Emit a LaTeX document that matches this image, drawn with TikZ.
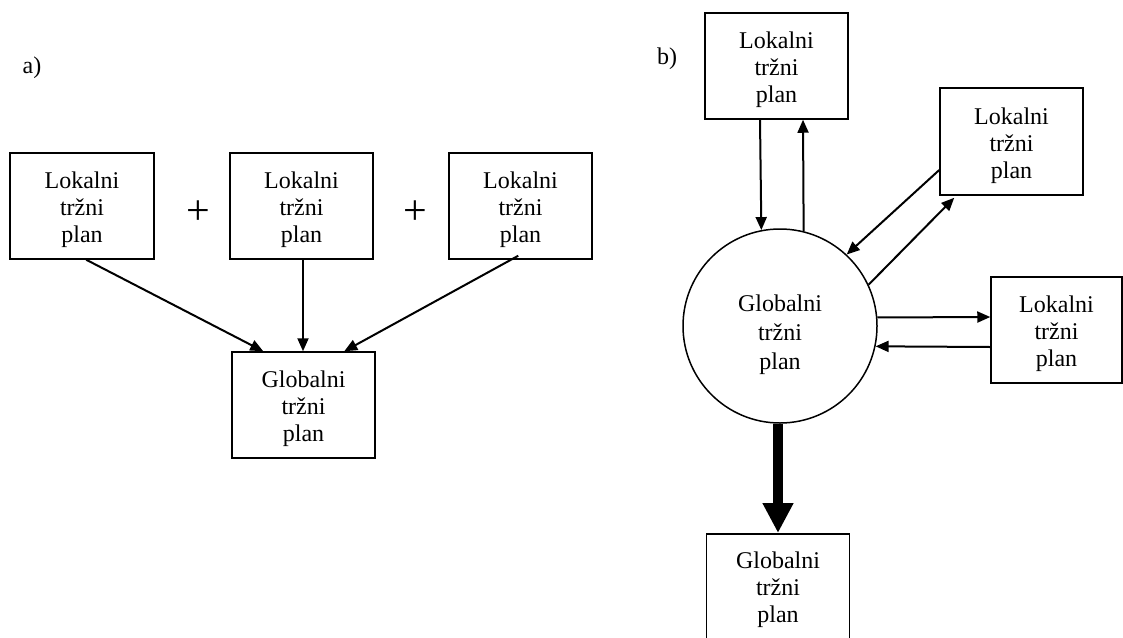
\documentclass[tikz,border=0pt]{standalone}
\usepackage{fontspec}
\setmainfont{Liberation Serif}
\usetikzlibrary{arrows.meta,calc}

% three-line plan labels; the invisible rule sets the first line's height
\newcommand\localplan[1][25pt]{\rule{0pt}{#1}Lokalni\\tržni\\plan}
\newcommand\globalplan[1][25pt]{\rule{0pt}{#1}Globalni\\tržni\\plan}

\tikzset{
  plan/.style={draw, line width=1.5pt, inner sep=0pt, align=center,
    minimum width=143pt, minimum height=106pt,
    font=\fontsize{24pt}{27pt}\selectfont},
  hub/.style={draw, circle, line width=1.5pt, inner sep=0pt, align=center,
    minimum size=194pt, font=\fontsize{24pt}{29pt}\selectfont},
  flow/.style={line width=2pt, -{Triangle[length=13pt,width=11pt]}},
  bigflow/.style={line width=10pt, -{Triangle[length=30pt,width=29pt]}},
  tag/.style={font=\fontsize{24pt}{27pt}\selectfont, inner sep=0pt},
  plus/.style={font=\fontsize{42pt}{42pt}\selectfont, inner sep=0pt}
}

\begin{document}
\begin{tikzpicture}[x=1pt,y=-1pt]
\useasboundingbox (0,0) rectangle (1123,637);
\clip (0,0) rectangle (1123,637);

% (a) local plans summed into the global plan
\node[tag, anchor=base] (la) at (32,73) {a)};
\node[plan, minimum width=144pt] (a1) at (82,206) {\localplan};
\node[plan] (a2) at (301.5,206) {\localplan};
\node[plan] (a3) at (520.5,206) {\localplan};
\node[plus] (p1) at (198,213) {+};
\node[plus] (p2) at (415,213) {+};
\node[plan] (ag) at (303.5,405) {\globalplan};

\draw[flow] ([xshift=77pt]a1.south west) -- ([xshift=32pt]ag.north west);
\draw[flow] ([xshift=1.5pt]a2.south) -- ([xshift=-0.5pt]ag.north);
\draw[flow] ([xshift=70pt,yshift=4pt]a3.south west) -- ([xshift=113pt]ag.north west);

% (b) global plan exchanging with local plans
\node[tag, anchor=base] (lb) at (667,64) {b)};
\node[hub] (c) at (780,326) {\globalplan[35pt]};
\node[plan] (t) at (776.5,66) {\localplan};
\node[plan, minimum height=107pt] (r1) at (1011.5,141.5) {\localplan};
\node[plan, minimum width=131pt] (r2) at (1056.5,330) {\localplan};
\node[plan, anchor=north] (g) at (778,533) {\globalplan[22pt]};

\draw[flow] ([xshift=-16.5pt]t.south) -- (c.101.9);
\draw[flow] (c.76.3) -- ([xshift=26.5pt]t.south);
\draw[flow] ([yshift=-28.5pt]r1.west) -- (c.47);
\draw[flow] (c.25.5) -- ([xshift=15pt,yshift=-2pt]r1.south west);
\draw[flow] (c.5.3) -- ([yshift=13pt]r2.west);
\draw[flow] ([yshift=-17pt]r2.west) -- (c.-12.5);
\draw[bigflow] (c.south -| g.north) -- (g.north);
\end{tikzpicture}
\end{document}
